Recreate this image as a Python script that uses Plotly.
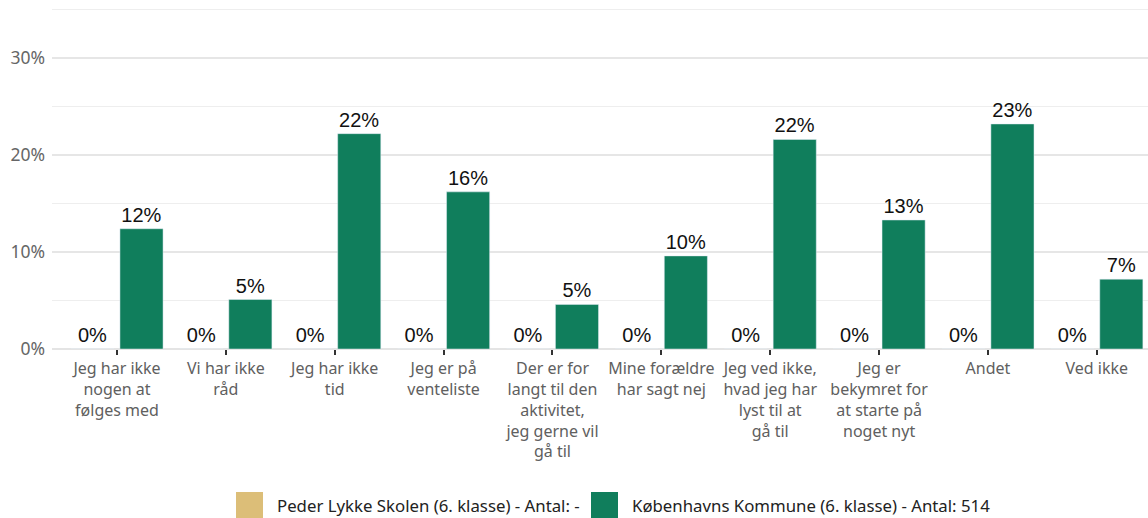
import plotly.graph_objects as go

categories = [
    "Jeg har ikke<br>nogen at<br>følges med",
    "Vi har ikke<br>råd",
    "Jeg har ikke<br>tid",
    "Jeg er på<br>venteliste",
    "Der er for<br>langt til den<br>aktivitet,<br>jeg gerne vil<br>gå til",
    "Mine forældre<br>har sagt nej",
    "Jeg ved ikke,<br>hvad jeg har<br>lyst til at<br>gå til",
    "Jeg er<br>bekymret for<br>at starte på<br>noget nyt",
    "Andet",
    "Ved ikke",
]
school_name = "Peder Lykke Skolen (6. klasse) - Antal: -"
school_values = [0, 0, 0, 0, 0, 0, 0, 0, 0, 0]
city_name = "Københavns Kommune (6. klasse) - Antal: 514"
city_values = [12.4, 5.1, 22.2, 16.2, 4.6, 9.6, 21.6, 13.3, 23.2, 7.2]

gold = "#DCBE78"
green = "#107E5C"

W, H = 1148, 518
ML, MR, MT, MB = 52, 0, 6, 169
PW, PH = W - ML - MR, H - MT - MB
Y_TOP = 35.36


def px_x(px):
    return (px - ML) / PW


def px_y(py):
    return (H - MB - py) / PH


fig = go.Figure()
for name, vals, col in [(school_name, school_values, gold), (city_name, city_values, green)]:
    fig.add_trace(go.Bar(
        x=categories, y=vals, name=name,
        marker=dict(color=col),
        texttemplate="%{y:.0f}%", textposition="outside",
        textfont=dict(family="Liberation Sans, Arial", size=20, color="#111111"),
        cliponaxis=False,
    ))

# Legend drawn as coloured squares with labels beneath the chart
legend_items = [(school_name, gold, 236, 275), (city_name, green, 591, 630)]
shapes, annotations = [], []
for name, col, sq_x, txt_x in legend_items:
    shapes.append(dict(
        type="rect", xref="paper", yref="paper",
        x0=px_x(sq_x), x1=px_x(sq_x + 27), y0=px_y(492), y1=px_y(519),
        fillcolor=col, line=dict(width=0),
    ))
    annotations.append(dict(
        xref="paper", yref="paper", x=px_x(txt_x), y=px_y(506),
        xanchor="left", yanchor="middle", showarrow=False, text=name,
        font=dict(family="Noto Sans, sans-serif", size=16.8, color="#222222"),
    ))

fig.update_layout(
    width=W, height=H,
    margin=dict(l=ML, r=MR, t=MT, b=MB),
    paper_bgcolor="white", plot_bgcolor="white",
    barmode="group", bargap=0.1, bargroupgap=0.12,
    font=dict(family="Noto Sans, sans-serif", size=16, color="#5a5a5a"),
    showlegend=False,
    shapes=shapes, annotations=annotations,
)
fig.update_xaxes(
    range=[-0.597, 9.47], automargin=False,
    ticks="outside", ticklen=5, tickwidth=2, tickcolor="#333333",
    tickfont=dict(family="Noto Sans, sans-serif", size=16, color="#606060"),
    showline=False, showgrid=False, fixedrange=True,
)
fig.update_yaxes(
    range=[0, Y_TOP], automargin=False, dtick=10, ticksuffix="%",
    showgrid=True, gridcolor="#e6e6e6", gridwidth=1.5,
    minor=dict(dtick=5, showgrid=True, gridcolor="#eeeeee", gridwidth=1),
    zeroline=True, zerolinecolor="#e4e4e4", zerolinewidth=2,
    tickfont=dict(family="Noto Sans, sans-serif", size=17.5, color="#666666"),
    ticklabelstandoff=6,
    ticks="", fixedrange=True,
)

fig.write_html("out.html")
